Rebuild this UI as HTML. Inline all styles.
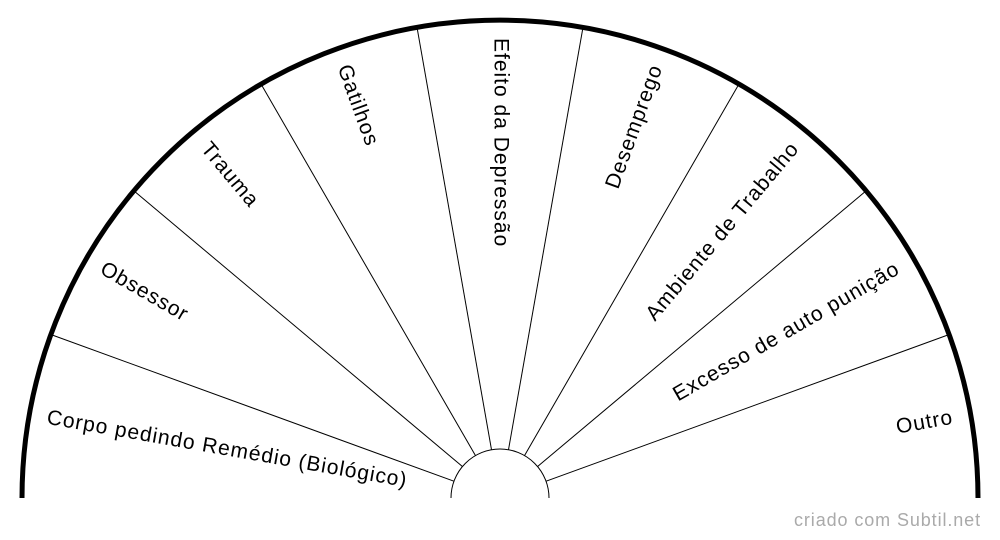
<!DOCTYPE html>
<html><head><meta charset="utf-8"><style>
html,body{margin:0;padding:0;background:#fff;}
svg{display:block;}
text{font-family:"Liberation Sans",Arial,sans-serif;}
</style></head><body>
<svg width="1000" height="540" viewBox="0 0 1000 540" xmlns="http://www.w3.org/2000/svg">
<rect width="1000" height="540" fill="#fff"/>
<g stroke="#000" stroke-width="1" fill="none">
<line x1="453.9" y1="481.2" x2="50.8" y2="334.5"/>
<line x1="462.4" y1="466.5" x2="133.8" y2="190.8"/>
<line x1="475.5" y1="455.6" x2="261" y2="84.0"/>
<line x1="491.5" y1="449.7" x2="417.0" y2="27.3"/>
<line x1="508.5" y1="449.7" x2="583.0" y2="27.3"/>
<line x1="524.5" y1="455.6" x2="739" y2="84.0"/>
<line x1="537.6" y1="466.5" x2="866.2" y2="190.8"/>
<line x1="546.1" y1="481.2" x2="949.2" y2="334.5"/>
<path d="M451,498 A49,49 0 0 1 549,498"/>
</g>
<path d="M22,498 A478,478 0 0 1 978,498" stroke="#000" stroke-width="5" fill="none"/>
<g font-size="21" letter-spacing="1" fill="#000" dominant-baseline="middle">
<text transform="translate(500,498) rotate(10) translate(-460,0)">Corpo pedindo Remédio (Biológico)</text>
<text transform="translate(500,498) rotate(30) translate(-460,0)">Obsessor</text>
<text transform="translate(500,498) rotate(50) translate(-460,0)">Trauma</text>
<text transform="translate(500,498) rotate(70) translate(-460,0)">Gatilhos</text>
<text transform="translate(500,498) rotate(90) translate(-460,0)">Efeito da Depressão</text>
<text text-anchor="end" transform="translate(500,498) rotate(-70) translate(460,0)">Desemprego</text>
<text text-anchor="end" transform="translate(500,498) rotate(-50) translate(460,0)">Ambiente de Trabalho</text>
<text text-anchor="end" transform="translate(500,498) rotate(-30) translate(460,0)">Excesso de auto punição</text>
<text text-anchor="end" transform="translate(500,498) rotate(-10) translate(460,0)">Outro</text>
</g>
<text x="981" y="526" font-size="18" letter-spacing="0.9" fill="#aaa" text-anchor="end">criado com Subtil.net</text>
</svg>
</body></html>
